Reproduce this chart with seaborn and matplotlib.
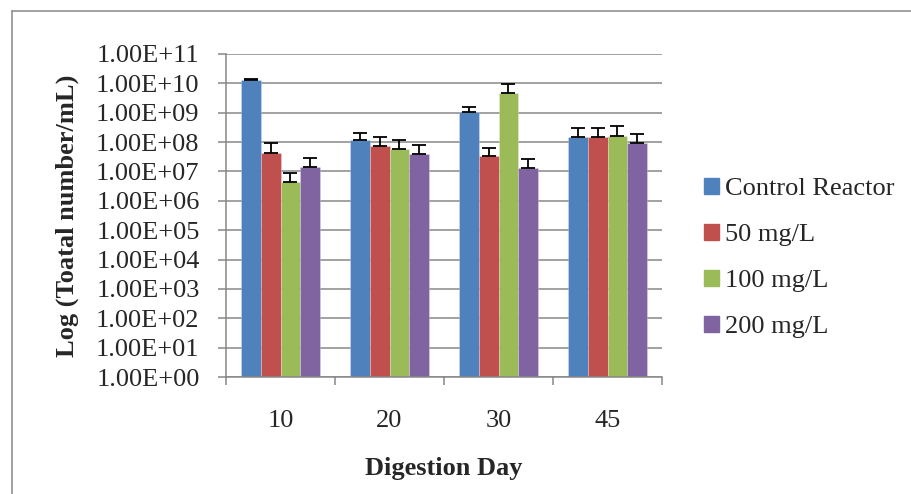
import numpy as np
import pandas as pd
import matplotlib
matplotlib.use("Agg")
import matplotlib.pyplot as plt
import matplotlib.ticker as mticker
from matplotlib.lines import Line2D
import seaborn as sns

days = ["10", "20", "30", "45"]
series = ["Control Reactor", "50 mg/L", "100 mg/L", "200 mg/L"]
control = [1.30e10, 1.14e8, 1.10e9, 1.50e8]
mg50 = [4.2e7, 7.5e7, 3.35e7, 1.5e8]
mg100 = [4.5e6, 5.8e7, 4.8e9, 1.67e8]
mg200 = [1.37e7, 4.0e7, 1.33e7, 9.5e7]
control_err = [1.1e9, 8.6e7, 5.0e8, 1.6e8]
mg50_err = [4.8e7, 8.0e7, 3.15e7, 1.5e8]
mg100_err = [4.3e6, 5.9e7, 5.0e9, 1.73e8]
mg200_err = [1.53e7, 4.2e7, 1.37e7, 9.5e7]
y_ticks = [10.0 ** k for k in range(0, 12)]

values = [control, mg50, mg100, mg200]
errors = [control_err, mg50_err, mg100_err, mg200_err]
colors = ["#4F81BD", "#C0504D", "#9BBB59", "#8064A2"]

rows = []
for s, vals in zip(series, values):
    for d, v in zip(days, vals):
        rows.append({"Day": d, "Series": s, "Value": v})
df = pd.DataFrame(rows)

sns.set_style("white")
plt.rcParams["font.family"] = ["Liberation Serif", "DejaVu Serif"]

fig = plt.figure(figsize=(9.11, 4.94), dpi=100)
ax = fig.add_axes([226 / 911, 1 - 377 / 494, (662 - 226) / 911, (377 - 54) / 494])
ax.set_yscale("log")

sns.barplot(data=df, x="Day", y="Value", hue="Series", order=days,
            hue_order=series, palette=colors, width=0.725, gap=0,
            errorbar=None, saturation=1, ax=ax,
            edgecolor=(1, 1, 1, 0.35), linewidth=0.5)

# error bars (plus direction)
for cont, vals, errs in zip(ax.containers, values, errors):
    xs = [p.get_x() + p.get_width() / 2 for p in cont.patches]
    ax.errorbar(xs, vals, yerr=[np.zeros(len(vals)), errs], fmt="none",
                ecolor="black", elinewidth=1.3, capsize=5, capthick=1.3,
                zorder=5)

ax.set_ylim(1, 1e11)
ax.set_xlim(-0.5, 3.5)
ax.yaxis.set_major_locator(mticker.FixedLocator(y_ticks))
ax.yaxis.set_minor_locator(mticker.NullLocator())
ax.yaxis.set_major_formatter(mticker.FuncFormatter(lambda v, p: f"{v:.2E}"))
ax.grid(axis="y", color="#878787", linewidth=1.1)
ax.set_axisbelow(True)

for s in ["top", "right"]:
    ax.spines[s].set_visible(False)
for s in ["left", "bottom"]:
    ax.spines[s].set_color("#878787")
    ax.spines[s].set_linewidth(1.1)

ax.tick_params(axis="y", which="major", length=6, width=1.1, color="#878787",
               direction="out", pad=13, labelsize=19, left=True)
ax.xaxis.set_minor_locator(mticker.FixedLocator([-0.5, 0.5, 1.5, 2.5, 3.5]))
ax.tick_params(axis="x", which="major", length=0, pad=24, labelsize=19)
ax.tick_params(axis="x", which="minor", length=6, width=1.1, color="#878787",
               direction="out", bottom=True)

ax.set_xlabel("Digestion Day", fontsize=19, fontweight="bold", labelpad=18)
ax.set_ylabel("Log (Toatal number/mL)", fontsize=19, fontweight="bold")
ax.yaxis.set_label_coords((79 - 226) / 436, 0.5)

ax.get_legend().remove()
handles = [plt.Rectangle((0, 0), 1, 1, color=c) for c in colors]
fig.legend(handles, series, loc="center left",
           bbox_to_anchor=(704 / 911, 1 - 258 / 494), frameon=False,
           fontsize=19, handlelength=0.55, handleheight=0.55,
           handletextpad=0.25, labelspacing=0.9, borderpad=0,
           borderaxespad=0)

# outer chart border (left and top visible)
fig.add_artist(Line2D([12 / 911, 12 / 911], [-0.1, 1 - 11 / 494],
                      transform=fig.transFigure, color="#878787", lw=1.1))
fig.add_artist(Line2D([12 / 911, 1.1], [1 - 11 / 494, 1 - 11 / 494],
                      transform=fig.transFigure, color="#878787", lw=1.1))

fig.savefig("out.png", dpi=100)
